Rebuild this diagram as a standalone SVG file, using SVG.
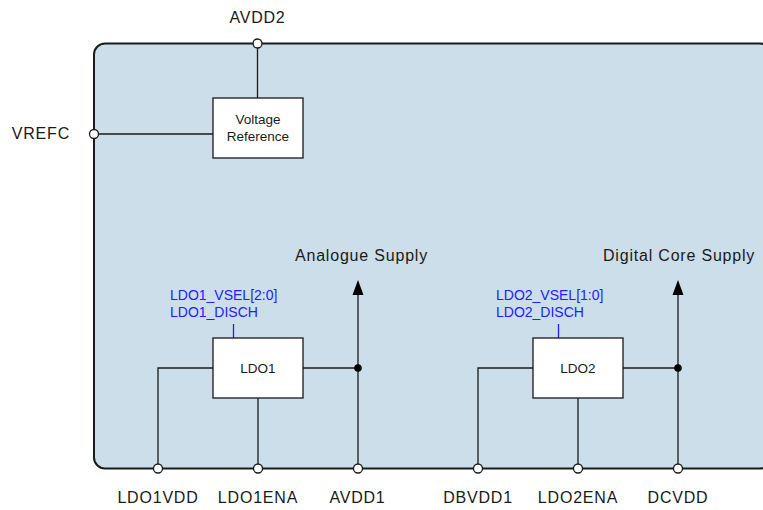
<svg xmlns="http://www.w3.org/2000/svg" width="763" height="510" viewBox="0 0 763 510">
<defs>
<style>
.lbl{font-family:"Liberation Sans",Arial,sans-serif;font-size:16px;letter-spacing:0.8px;fill:#1a1a1a}
.box{fill:#ffffff;stroke:#1a1a1a;stroke-width:1.3}
.btxt{font-family:"Liberation Sans",Arial,sans-serif;font-size:13.5px;fill:#1a1a1a;text-anchor:middle}
.reg{font-family:"Liberation Sans",Arial,sans-serif;font-size:14px;fill:#2020ff}
.wire{fill:none;stroke:#1a1a1a;stroke-width:1.3}
.pin{fill:#ffffff;stroke:#1a1a1a;stroke-width:1.3}
.dot{fill:#000000}
.arr{fill:#000000}
</style>
</defs>
<rect id="chip" x="94" y="43.5" width="677" height="425" rx="11" ry="11" fill="#ccdee9" stroke="#1a1a1a" stroke-width="2"/>
<g id="connectors">
<path class="wire" d="M257.5 43.5 V98"/>
<path class="wire" d="M94 134 H213"/>
<path class="wire" d="M213 368 H158 V468.5"/>
<path class="wire" d="M258 398 V468.5"/>
<path class="wire" d="M303 368 H358"/>
<path class="wire" d="M358 468.5 V294"/>
<polygon class="arr" points="358,280 352.5,295 363.5,295"/>
<circle class="dot" cx="358" cy="368" r="3.8"/>
<path d="M233.5 324 V338" stroke="#2020ff" stroke-width="1.3"/>
<path class="wire" d="M533 368 H478 V468.5"/>
<path class="wire" d="M578 398 V468.5"/>
<path class="wire" d="M623 368 H678"/>
<path class="wire" d="M678 468.5 V294"/>
<polygon class="arr" points="678,280 672.5,295 683.5,295"/>
<circle class="dot" cx="678" cy="368" r="3.8"/>
<path d="M558.5 324 V338" stroke="#2020ff" stroke-width="1.3"/>
</g>
<g id="pins">
<circle class="pin" cx="257.5" cy="43.5" r="4.5"/>
<circle class="pin" cx="94" cy="134" r="4.5"/>
<circle class="pin" cx="158" cy="468.5" r="4.5"/>
<circle class="pin" cx="258" cy="468.5" r="4.5"/>
<circle class="pin" cx="358" cy="468.5" r="4.5"/>
<circle class="pin" cx="478" cy="468.5" r="4.5"/>
<circle class="pin" cx="578" cy="468.5" r="4.5"/>
<circle class="pin" cx="678" cy="468.5" r="4.5"/>
</g>
<g id="vref">
<rect class="box" x="213" y="98" width="90" height="60"/>
<text class="btxt" x="258" y="124">Voltage</text>
<text class="btxt" x="258" y="141">Reference</text>
</g>
<g id="ldo1">
<rect class="box" x="213" y="338" width="90" height="60"/>
<text class="btxt" x="258" y="373">LDO1</text>
</g>
<g id="ldo2">
<rect class="box" x="533" y="338" width="90" height="60"/>
<text class="btxt" x="578" y="373">LDO2</text>
</g>
<g id="labels">
<text class="lbl" x="257.5" y="23" text-anchor="middle">AVDD2</text>
<text class="lbl" x="70" y="139" text-anchor="end">VREFC</text>
<text class="lbl" x="295" y="261">Analogue Supply</text>
<text class="lbl" x="603" y="261">Digital Core Supply</text>
<text class="reg" x="170" y="300">LDO1_VSEL[2:0]</text>
<text class="reg" x="170" y="317">LDO1_DISCH</text>
<text class="reg" x="496" y="300">LDO2_VSEL[1:0]</text>
<text class="reg" x="496" y="317">LDO2_DISCH</text>
<text class="lbl" x="158" y="503" text-anchor="middle">LDO1VDD</text>
<text class="lbl" x="258" y="503" text-anchor="middle">LDO1ENA</text>
<text class="lbl" x="357.5" y="503" text-anchor="middle">AVDD1</text>
<text class="lbl" x="478" y="503" text-anchor="middle">DBVDD1</text>
<text class="lbl" x="578" y="503" text-anchor="middle">LDO2ENA</text>
<text class="lbl" x="678" y="503" text-anchor="middle">DCVDD</text>
</g>
</svg>
